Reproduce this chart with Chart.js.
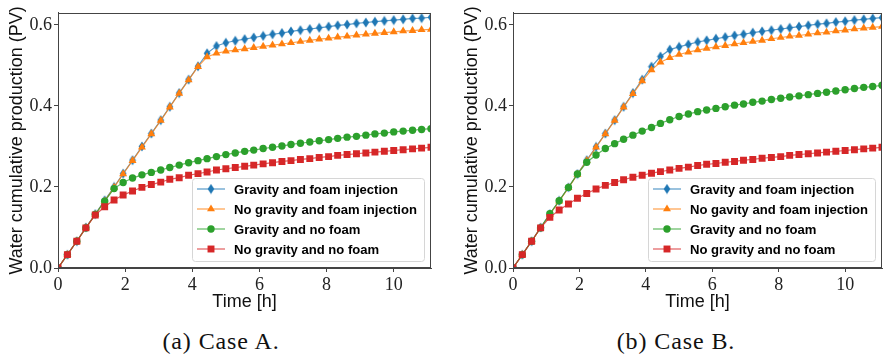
<!DOCTYPE html>
<html>
<head>
<meta charset="utf-8">
<script src="https://cdn.jsdelivr.net/npm/chart.js@4.4.1/dist/chart.umd.min.js"></script>
<style>
  body { margin: 0; background: #fff; width: 887px; height: 355px; position: relative; overflow: hidden; }
  .panel { position: absolute; top: 0; }
  .caption { position: absolute; top: 328px; font-family: "Liberation Serif", serif; font-size: 24px; letter-spacing: 0.9px; color: #111; transform: translateX(-50%); white-space: nowrap; }
</style>
</head>
<body>
<div class="panel" style="left:0"><canvas id="chartA" width="443" height="312"></canvas></div>
<div class="panel" style="left:455px"><canvas id="chartB" width="432" height="312"></canvas></div>
<div class="caption" style="left:221px">(a) Case A.</div>
<div class="caption" style="left:676px">(b) Case B.</div>
<script>
// time in hours (one output every 1000 s)
const timeH = [0, 0.28, 0.56, 0.83, 1.11, 1.39, 1.67, 1.94, 2.22, 2.5, 2.78, 3.06, 3.33, 3.61, 3.89, 4.17,
  4.44, 4.72, 5.0, 5.28, 5.56, 5.83, 6.11, 6.39, 6.67, 6.94, 7.22, 7.5, 7.78, 8.06, 8.33, 8.61, 8.89,
  9.17, 9.44, 9.72, 10.0, 10.28, 10.56, 10.83, 11.11];

const xTicks = [0, 2, 4, 6, 8, 10];
const yTicks = [0, 0.2, 0.4, 0.6];

// Case A
const gravFoamA = [0, 0.033, 0.066, 0.1, 0.133, 0.167, 0.2, 0.233, 0.266, 0.3, 0.332, 0.365, 0.398, 0.432, 0.465, 0.498,
  0.530, 0.548, 0.556, 0.561, 0.565, 0.569, 0.573, 0.577, 0.580, 0.584, 0.587, 0.590, 0.593, 0.596, 0.599,
  0.601, 0.604, 0.606, 0.608, 0.610, 0.612, 0.614, 0.616, 0.617, 0.619];
const noGravFoamA = [0, 0.033, 0.066, 0.099, 0.132, 0.165, 0.199, 0.232, 0.265, 0.298, 0.331, 0.364, 0.397, 0.431, 0.464, 0.497,
  0.521, 0.530, 0.535, 0.538, 0.541, 0.544, 0.547, 0.550, 0.553, 0.556, 0.559, 0.562, 0.565, 0.567, 0.570,
  0.572, 0.575, 0.577, 0.579, 0.581, 0.583, 0.585, 0.586, 0.588, 0.589];
const gravNoFoamA = [0, 0.033, 0.066, 0.099, 0.132, 0.165, 0.196, 0.211, 0.222, 0.230, 0.236, 0.242, 0.248, 0.254, 0.260, 0.265,
  0.270, 0.275, 0.280, 0.284, 0.288, 0.291, 0.295, 0.298, 0.301, 0.305, 0.308, 0.311, 0.314, 0.317, 0.320,
  0.323, 0.325, 0.328, 0.331, 0.333, 0.336, 0.338, 0.340, 0.342, 0.344];
const noGravNoFoamA = [0, 0.033, 0.066, 0.099, 0.131, 0.151, 0.168, 0.180, 0.190, 0.199, 0.206, 0.212, 0.219, 0.223, 0.229, 0.233,
  0.237, 0.242, 0.245, 0.248, 0.251, 0.254, 0.257, 0.260, 0.263, 0.265, 0.268, 0.270, 0.273, 0.275, 0.278,
  0.280, 0.282, 0.284, 0.286, 0.288, 0.290, 0.292, 0.294, 0.296, 0.298];

// Case B
const gravFoamB = [0, 0.033, 0.066, 0.1, 0.133, 0.166, 0.199, 0.232, 0.266, 0.299, 0.332, 0.365, 0.398, 0.432, 0.465, 0.497,
  0.522, 0.539, 0.546, 0.552, 0.558, 0.562, 0.566, 0.570, 0.574, 0.577, 0.581, 0.584, 0.587, 0.590, 0.593,
  0.596, 0.599, 0.602, 0.604, 0.607, 0.609, 0.612, 0.614, 0.616, 0.618];
const noGravFoamB = [0, 0.033, 0.066, 0.099, 0.132, 0.165, 0.198, 0.231, 0.265, 0.298, 0.331, 0.364, 0.397, 0.430, 0.462, 0.489,
  0.508, 0.519, 0.527, 0.533, 0.538, 0.542, 0.546, 0.549, 0.553, 0.556, 0.559, 0.562, 0.566, 0.569, 0.572,
  0.574, 0.577, 0.580, 0.582, 0.585, 0.587, 0.590, 0.592, 0.594, 0.596];
const gravNoFoamB = [0, 0.033, 0.066, 0.099, 0.134, 0.166, 0.199, 0.232, 0.261, 0.279, 0.295, 0.307, 0.318, 0.328, 0.338, 0.347,
  0.357, 0.366, 0.374, 0.380, 0.386, 0.390, 0.394, 0.398, 0.402, 0.405, 0.409, 0.412, 0.416, 0.419, 0.422,
  0.425, 0.428, 0.431, 0.434, 0.437, 0.440, 0.443, 0.446, 0.448, 0.451];
const noGravNoFoamB = [0, 0.033, 0.066, 0.099, 0.125, 0.143, 0.158, 0.172, 0.184, 0.195, 0.204, 0.211, 0.218, 0.224, 0.229, 0.234,
  0.238, 0.242, 0.246, 0.249, 0.253, 0.256, 0.258, 0.261, 0.263, 0.266, 0.268, 0.271, 0.273, 0.275, 0.278,
  0.280, 0.282, 0.284, 0.286, 0.288, 0.290, 0.292, 0.294, 0.296, 0.298];

const labelsA = ["Gravity and foam injection", "No gravity and foam injection", "Gravity and no foam", "No gravity and no foam"];
const labelsB = ["Gravity and foam injection", "No gavity and foam injection", "Gravity and no foam", "No gravity and no foam"];

const colors = ["#1f77b4", "#ff7f0e", "#2ca02c", "#d62728"];
const lineColors = ["rgba(31,119,180,0.75)", "rgba(255,127,14,0.75)", "rgba(44,160,44,0.75)", "rgba(214,39,40,0.75)"];

// thin diamond marker like matplotlib 'd'
const diamond = document.createElement("canvas");
diamond.width = 8; diamond.height = 11;
(function () {
  const c = diamond.getContext("2d");
  c.fillStyle = colors[0];
  c.beginPath();
  c.moveTo(4, 0.5); c.lineTo(7.3, 5.5); c.lineTo(4, 10.5); c.lineTo(0.7, 5.5);
  c.closePath(); c.fill();
})();

const markers = [
  { pointStyle: diamond, radius: 5 },
  { pointStyle: "triangle", radius: 4.6 },
  { pointStyle: "circle", radius: 3.7 },
  { pointStyle: "rect", radius: 4.9 },
];

function toXY(ys) {
  return ys.map((y, i) => ({ x: timeH[i], y: y }));
}

function makeDatasets(series, labels) {
  return series.map((ys, k) => ({
    label: labels[k],
    data: toXY(ys),
    borderColor: lineColors[k],
    borderWidth: 1.2,
    backgroundColor: colors[k],
    pointBackgroundColor: colors[k],
    pointBorderColor: colors[k],
    pointBorderWidth: 0,
    pointStyle: markers[k].pointStyle,
    pointRadius: markers[k].radius,
    pointHoverRadius: markers[k].radius,
    tension: 0,
    order: 3 - k, // red on top, like matplotlib draw order
  }));
}

// axes frame on all four sides
const framePlugin = {
  id: "frame",
  afterDatasetsDraw(chart) {
    const a = chart.chartArea, ctx = chart.ctx;
    ctx.save();
    ctx.strokeStyle = "#444";
    ctx.lineWidth = 1;
    ctx.strokeRect(Math.round(a.left) + 0.5, Math.round(a.top) + 0.5, Math.round(a.right - a.left) - 1, Math.round(a.bottom - a.top) - 1);
    ctx.restore();
  },
};

// legend inside the axes, lower right (matplotlib style)
const LEGEND_FONT = "'Liberation Sans', sans-serif";
const legendInside = {
  id: "legendInside",
  afterDraw(chart) {
    const ctx = chart.ctx, a = chart.chartArea;
    const ds = chart.data.datasets;
    const target = chart.options.plugins.legendInside.textWidth;
    ctx.save();
    ctx.font = "bold 14px " + LEGEND_FONT;
    let tw = 0;
    ds.forEach(d => { tw = Math.max(tw, ctx.measureText(d.label).width); });
    const fs = 14 * target / tw;

    const boxW = 5 + 28 + 9 + target + 7;
    const boxH = 83;
    const right = a.right - 7, bottom = a.bottom - 7;
    const left = right - boxW, top = bottom - boxH;
    ctx.beginPath();
    if (ctx.roundRect) ctx.roundRect(left + 0.5, top + 0.5, boxW, boxH, 3); else ctx.rect(left + 0.5, top + 0.5, boxW, boxH);
    ctx.fillStyle = "rgba(255,255,255,0.85)";
    ctx.fill();
    ctx.strokeStyle = "#d6d6d6";
    ctx.lineWidth = 1;
    ctx.stroke();

    ds.forEach((d, k) => {
      const y = top + 11 + k * 20;
      const x0 = left + 5, x1 = x0 + 28;
      ctx.strokeStyle = d.borderColor;
      ctx.lineWidth = 1.2;
      ctx.beginPath(); ctx.moveTo(x0, y); ctx.lineTo(x1, y); ctx.stroke();
      ctx.fillStyle = d.pointBackgroundColor;
      ctx.strokeStyle = d.pointBackgroundColor;
      Chart.helpers.drawPoint(ctx, { pointStyle: d.pointStyle, radius: d.pointRadius, borderWidth: 0, rotation: 0 }, (x0 + x1) / 2, y);
      ctx.font = "bold " + fs.toFixed(2) + "px " + LEGEND_FONT;
      ctx.fillStyle = "#000";
      ctx.textBaseline = "middle";
      ctx.textAlign = "left";
      ctx.fillText(d.label, x1 + 9, y + 1);
    });
    ctx.restore();
  },
};

function makeChart(id, series, labels, legendTextWidth, padRight) {
  return new Chart(document.getElementById(id), {
    type: "line",
    data: { datasets: makeDatasets(series, labels) },
    plugins: [framePlugin, legendInside],
    options: {
      responsive: false,
      animation: false,
      events: [],
      layout: { padding: { top: 9, right: padRight, bottom: 2, left: 0 } },
      plugins: {
        legend: { display: false },
        tooltip: { enabled: false },
        legendInside: { textWidth: legendTextWidth },
      },
      scales: {
        x: {
          type: "linear",
          min: 0,
          max: 11.11,
          afterBuildTicks: s => { s.ticks = xTicks.map(v => ({ value: v })); },
          afterFit: s => { s.height = 42; },
          grid: { drawOnChartArea: false, drawTicks: true, tickLength: 4, color: "#444" },
          border: { display: true, color: "#444" },
          ticks: { padding: 2, color: "#222", font: { family: "'Liberation Serif', serif", size: 18 }, maxRotation: 0 },
          title: { display: true, text: "Time [h]", color: "#111", padding: { top: 0, bottom: -2 },
            font: { family: "'Liberation Sans', sans-serif", size: 18, lineHeight: 1.1 } },
        },
        y: {
          min: 0,
          max: 0.63,
          afterBuildTicks: s => { s.ticks = yTicks.map(v => ({ value: v })); },
          afterFit: s => { s.width = 58; },
          grid: { drawOnChartArea: false, drawTicks: true, tickLength: 4, color: "#444" },
          border: { display: true, color: "#444" },
          ticks: { padding: 2, color: "#222", font: { family: "'Liberation Serif', serif", size: 18 },
            callback: v => v.toFixed(1) },
          title: { display: true, text: "Water cumulative production (PV)", color: "#111", padding: { top: 7, bottom: 0 },
            font: { family: "'Liberation Sans', sans-serif", size: 18, lineHeight: 1.1 } },
        },
      },
    },
  });
}

makeChart("chartA", [gravFoamA, noGravFoamA, gravNoFoamA, noGravNoFoamA], labelsA, 183, 12);
makeChart("chartB", [gravFoamB, noGravFoamB, gravNoFoamB, noGravNoFoamB], labelsB, 178, 1);
</script>
</body>
</html>
